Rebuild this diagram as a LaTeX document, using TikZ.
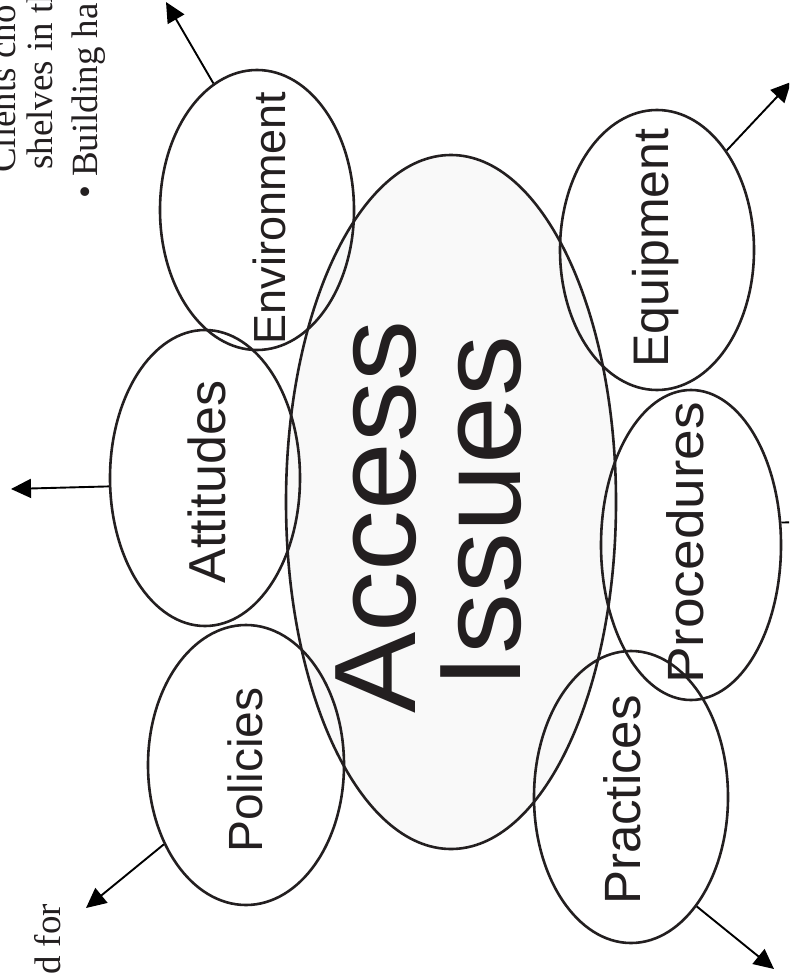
\documentclass[tikz,border=0pt]{standalone}
\usepackage{fontspec}
\setmainfont{Liberation Serif}
\setsansfont{Liberation Sans}
\usepackage{graphicx}
\usetikzlibrary{arrows.meta,shapes.geometric}
\definecolor{ink}{HTML}{231F20}
\definecolor{pale}{HTML}{F9F9F9}
\begin{document}
\begin{tikzpicture}[x=1pt,y=-1pt,
  bub/.style={ellipse, draw=ink, line width=2.6pt, inner sep=0pt},
  lab/.style={rotate=90, anchor=base, inner sep=0pt, text=ink},
  arr/.style={line width=1.9pt, draw=black, -{Triangle[length=20pt,width=19pt]}},
  note/.style={rotate=90, anchor=base west, inner sep=0pt, text=ink, font=\fontsize{37}{42}\selectfont}]
\useasboundingbox (0,0) rectangle (789,976);
\clip (0,0) rectangle (789,976);
% central ellipse
\node[bub, fill=pale, minimum width=330pt, minimum height=694pt] (ai) at (451,502) {};
% satellites
\node[bub, minimum width=194pt, minimum height=280pt] (env) at (257,210) {};
\node[bub, minimum width=190pt, minimum height=296pt] (att) at (205,478) {};
\node[bub, minimum width=196pt, minimum height=280pt] (pol) at (246,765) {};
\node[bub, minimum width=194pt, minimum height=280pt] (equ) at (657,250) {};
\node[bub, minimum width=180pt, minimum height=310pt] (pro) at (691,545) {};
\node[bub, minimum width=194pt, minimum height=292pt] (pra) at (631,797) {};
% big text
\node[lab, font=\sffamily\fontsize{116}{116}\selectfont] (tacc) at (415,517) {\scalebox{1.05}[1]{Access}};
\node[lab, font=\sffamily\fontsize{116}{116}\selectfont] (tiss) at (520,512) {\scalebox{1.05}[1]{Issues}};
% labels
\node[lab, font=\sffamily\fontsize{45}{45}\selectfont] (tenv) at (285,218) {Environment};
\node[lab, font=\sffamily\fontsize{52}{52}\selectfont] (tatt) at (225,482) {Attitudes};
\node[lab, font=\sffamily\fontsize{48}{48}\selectfont] (tpol) at (262,770) {Policies};
\node[lab, font=\sffamily\fontsize{50}{50}\selectfont] (tequ) at (668,248) {Equipment};
\node[lab, font=\sffamily\fontsize{51}{51}\selectfont] (tpro) at (703,543) {\scalebox{1.08}[1]{Procedures}};
\node[lab, font=\sffamily\fontsize{51}{51}\selectfont] (tpra) at (640,800) {Practices};
% arrow ends
\coordinate (envtip) at (166,2);
\coordinate (atttip) at (11,489);
\coordinate (poltip) at (86,908);
\coordinate (equtip) at (791,82);
\coordinate (protip) at (840,522);
\coordinate (pratip) at (774,969);
\draw[arr] (env.109.5) -- (envtip);
\draw[arr] (att.185.3) -- (atttip);
\draw[arr] (pol.224.6) -- (poltip);
\draw[arr] (equ.55.8) -- (equtip);
\draw[arr] (pro.14) -- (protip);
\draw[arr] (pra.-59) -- (pratip);
% notes
\node[note] (n1) at (15,173) {Clients cho};
\node[note] (n2) at (52,170) {shelves in th};
\node[note] (n3) at (97,199) {•\hspace{9pt}Building ha};
\node[note] (n4) at (60,975) {d for};
\end{tikzpicture}
\end{document}
